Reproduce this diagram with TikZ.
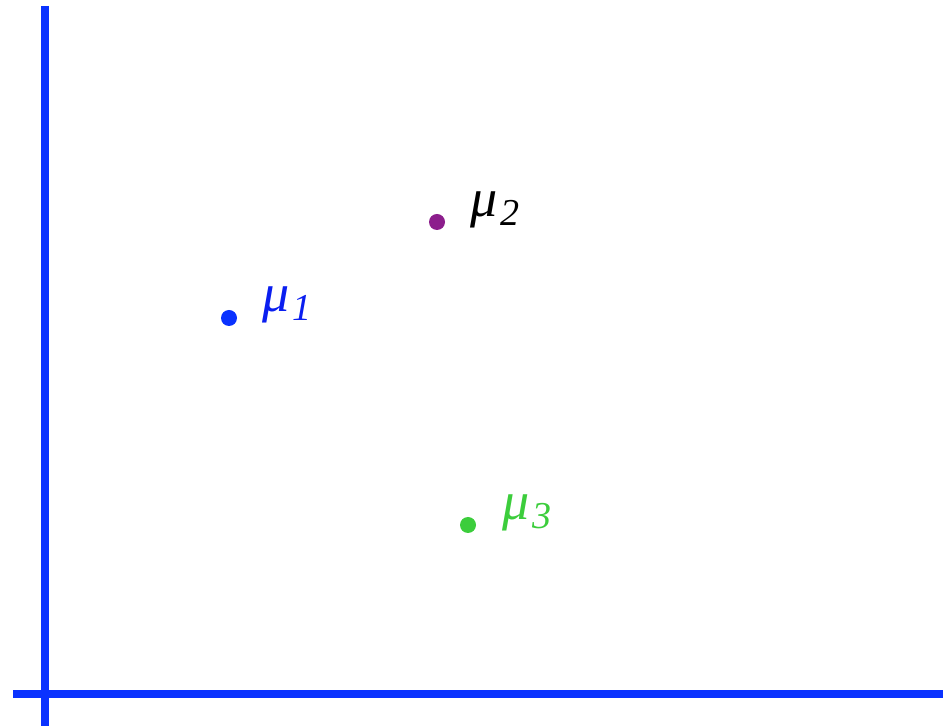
\documentclass[tikz,border=0pt]{standalone}
\usepackage{fontspec}
\setmainfont{Liberation Serif}
\definecolor{axBlue}{HTML}{0A32FF}
\definecolor{muBlue}{HTML}{0A1EF0}
\definecolor{muPurple}{HTML}{8C1E8C}
\definecolor{muGreen}{HTML}{3CCD3C}
\usetikzlibrary{positioning}
\newcommand{\mulabel}[1]{\itshape μ\kern1.5pt\raisebox{-0.35ex}{\fontsize{19}{19}\selectfont #1}}

\begin{document}
\begin{tikzpicture}[
  x=0.5pt, y=-0.5pt,
  axis/.style={line width=4pt, draw=axBlue},
  dot/.style={circle, inner sep=0pt, minimum size=8pt},
  lbl/.style={inner sep=0pt, anchor=base west, font=\fontsize{27}{27}\selectfont},
]
  \useasboundingbox (0,0) rectangle (943,726);
  % axes
  \coordinate (ytop) at (45,6);
  \coordinate (ybot) at (45,726);
  \coordinate (xl) at (13,694);
  \coordinate (xr) at (943,694);
  \draw[axis] (ytop) -- (ybot);
  \draw[axis] (xl) -- (xr);

  % means
  \node[dot, fill=axBlue] (m1) at (229,318) {};
  \node[dot, fill=muPurple] (m2) at (437,222) {};
  \node[dot, fill=muGreen] (m3) at (468,525) {};

  \node[lbl, text=muBlue] (l1) at (262,312) {\mulabel{1}};
  \node[lbl, text=black] (l2) at (470,217) {\mulabel{2}};
  \node[lbl, text=muGreen] (l3) at (502,520) {\mulabel{3}};
\end{tikzpicture}
\end{document}
